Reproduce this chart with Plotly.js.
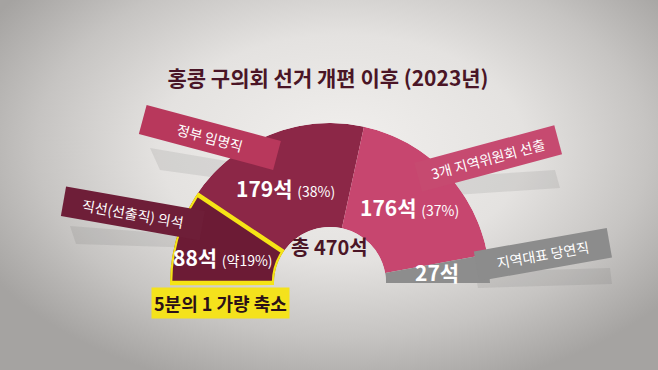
<!DOCTYPE html>
<html>
<head>
<meta charset="utf-8">
<script src="https://cdn.plot.ly/plotly-3.0.1.min.js"></script>
<style>
html,body{margin:0;padding:0;}
body{width:658px;height:370px;overflow:hidden;
background: radial-gradient(ellipse 62% 68% at 52% 40%, #f1efed 0%, #e4e2e0 45%, #c6c4c2 75%, #a5a3a1 100%);}
#chart{width:658px;height:370px;}
</style>
</head>
<body>
<div id="chart"></div>
<script>
// ---- data ----
const categories = ['직선(선출직) 의석', '정부 임명직', '3개 지역위원회 선출', '지역대표 당연직'];
const seats = [88, 179, 176, 27];
const pctLabels = ['(약19%)', '(38%)', '(37%)', ''];
const totalLabel = '총 470석';
const titleText = '홍콩 구의회 선거 개편 이후 (2023년)';
const noteText = '5분의 1 가량 축소';

// ---- styles ----
const segColors = ['#6c1b35', '#8c2747', '#c7466f', '#8d8d8d'];
const FONT = '"Noto Sans CJK KR", "Noto Sans", sans-serif';
const W = 658, H = 370;
const px = x => x / W, py = y => 1 - y / H;

const total = seats.reduce((a, b) => a + b, 0);
let cum = 0;
const thetas = [], widths = [];
seats.forEach(v => {
  thetas.push((cum + v / 2) / total * 180);
  widths.push(v / total * 180);
  cum += v;
});

// other segments first, highlighted (first) segment last so its outline is on top
const idxRest = [1, 2, 3];
const traceRest = {
  type: 'barpolar',
  r: idxRest.map(() => 1),
  theta: idxRest.map(i => thetas[i]),
  width: idxRest.map(i => widths[i]),
  base: 0,
  text: idxRest.map(i => categories[i]),
  marker: {color: idxRest.map(i => segColors[i]), line: {width: 0}},
  hoverinfo: 'text', showlegend: false
};
const traceHi = {
  type: 'barpolar',
  r: [1], theta: [thetas[0]], width: [widths[0]], base: 0,
  text: [categories[0]],
  marker: {color: segColors[0], line: {color: '#f5e416', width: 4.5}},
  hoverinfo: 'text', showlegend: false
};

// label positions (pixel -> paper)
const segLabelPos = [[223, 257], [285, 188], [410, 207], [437, 272]];
const bannerPos = [[133, 213, 10, 138, '#6e1e38'], [210, 137, 15, 136, '#b8385c'], [488, 158, -15, 142, '#c64a70'], [543, 255, -10, 132, '#8c8c8c']];

const annotations = [];
bannerPos.forEach((b, i) => {
  annotations.push({
    x: px(b[0]), y: py(b[1]), xref: 'paper', yref: 'paper', showarrow: false,
    xanchor: 'center', yanchor: 'middle',
    text: categories[i], textangle: b[2], width: b[3], height: 27,
    bgcolor: b[4], font: {family: FONT, size: 14, color: '#ffffff'}
  });
});
segLabelPos.forEach((p, i) => {
  const t = '<b>' + seats[i] + '석</b>' + (pctLabels[i] ? ' <span style="font-size:14px">' + pctLabels[i] + '</span>' : '');
  annotations.push({
    x: px(p[0]), y: py(p[1]), xref: 'paper', yref: 'paper', showarrow: false,
    xanchor: 'center', yanchor: 'middle', text: t,
    font: {family: FONT, size: 21, color: '#ffffff'}
  });
});
annotations.push({
  x: px(329), y: py(263), xref: 'paper', yref: 'paper', showarrow: false,
  text: '<b>' + totalLabel + '</b>', font: {family: FONT, size: 20, color: '#4a1526'}
});
annotations.push({
  x: px(220), y: py(303), xref: 'paper', yref: 'paper', showarrow: false,
  xanchor: 'center', yanchor: 'middle',
  text: '<b>' + noteText + '</b>', bgcolor: '#f4e21c', borderpad: 2,
  font: {family: FONT, size: 18, color: '#2b1018'}
});

// soft banner shadows (decorative, below the chart)
const P = (pts) => 'M' + pts.map(p => (p[0] / W) + ',' + (1 - p[1] / H)).join('L') + 'Z';
const shadowCol = 'rgba(70,70,70,0.11)';
const shapes = [
  {type: 'path', xref: 'paper', yref: 'paper', layer: 'below', line: {width: 0}, fillcolor: shadowCol,
   path: P([[150, 148], [268, 168], [262, 184], [160, 170]])},
  {type: 'path', xref: 'paper', yref: 'paper', layer: 'below', line: {width: 0}, fillcolor: shadowCol,
   path: P([[430, 178], [555, 170], [560, 188], [440, 196]])},
  {type: 'path', xref: 'paper', yref: 'paper', layer: 'below', line: {width: 0}, fillcolor: shadowCol,
   path: P([[70, 226], [200, 236], [200, 248], [76, 244]])},
  {type: 'path', xref: 'paper', yref: 'paper', layer: 'below', line: {width: 0}, fillcolor: shadowCol,
   path: P([[475, 272], [610, 268], [612, 284], [478, 288]])}
];

const sectorPad = 2; // degrees below horizontal so the outline's bottom edge isn't clipped
const extra = 160 * Math.sin(sectorPad * Math.PI / 180);
const layout = {
  width: W, height: H,
  margin: {l: 0, r: 0, t: 0, b: 0},
  paper_bgcolor: 'rgba(0,0,0,0)',
  plot_bgcolor: 'rgba(0,0,0,0)',
  title: {text: '<b>' + titleText + '</b>', x: px(328), y: py(79), xanchor: 'center', yanchor: 'middle',
          font: {family: FONT, size: 21, color: '#4a1526'}},
  polar: {
    domain: {x: [px(170), px(490)], y: [py(283 + extra), py(123)]},
    sector: [-sectorPad, 180 + sectorPad],
    hole: 0.35,
    bgcolor: 'rgba(0,0,0,0)',
    bargap: 0,
    angularaxis: {rotation: 180, direction: 'clockwise', visible: false, showgrid: false, showline: false},
    radialaxis: {range: [0, 1], visible: false, showgrid: false, showline: false}
  },
  shapes: shapes,
  annotations: annotations,
  showlegend: false
};

Plotly.newPlot('chart', [traceRest, traceHi], layout, {displayModeBar: false, staticPlot: true});
</script>
</body>
</html>
